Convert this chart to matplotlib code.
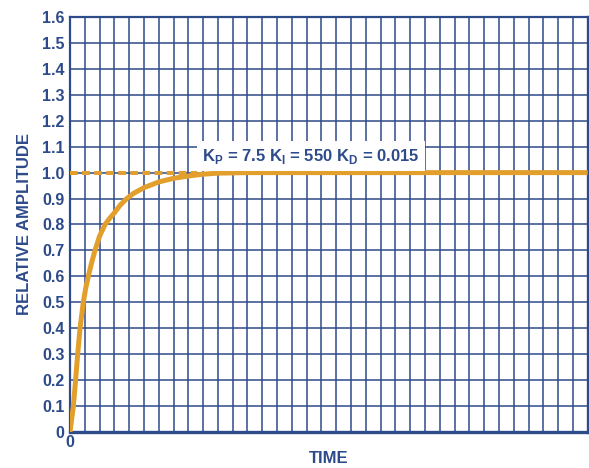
import numpy as np
import matplotlib
matplotlib.use("Agg")
import matplotlib.pyplot as plt

# valores (tiempo en divisiones de grilla)
tiempo = [0, 0.23, 0.38, 0.52, 0.68, 0.9, 1.05, 1.24, 1.45, 1.69, 2.0,
          2.37, 2.7, 3.0, 3.4, 3.84, 4.3, 5, 6, 7, 8, 9, 10, 12, 35]
amplitud = [0, 0.1, 0.2, 0.3, 0.4, 0.5, 0.55, 0.6, 0.65, 0.7, 0.755,
            0.8, 0.825, 0.845, 0.875, 0.9, 0.92, 0.942, 0.964, 0.978,
            0.987, 0.994, 0.998, 1.0, 1.0]
y_ticks = [0, 0.1, 0.2, 0.3, 0.4, 0.5, 0.6, 0.7, 0.8, 0.9, 1.0,
           1.1, 1.2, 1.3, 1.4, 1.5, 1.6]
y_labels = ["0", "0.1", "0.2", "0.3", "0.4", "0.5", "0.6", "0.7", "0.8",
            "0.9", "1.0", "1.1", "1.2", "1.3", "1.4", "1.5", "1.6"]
etiqueta = r"K$_\mathbf{P}$ = 7.5 K$_\mathbf{I}$ = 550 K$_\mathbf{D}$ = 0.015"

azul = "#2D4A8A"
naranja = "#E39F2C"

plt.rcParams["font.family"] = ["Liberation Sans", "DejaVu Sans"]
plt.rcParams["font.weight"] = "bold"
plt.rcParams["axes.labelweight"] = "bold"
plt.rcParams["mathtext.fontset"] = "custom"
plt.rcParams["mathtext.bf"] = "Liberation Sans:bold"
plt.rcParams["mathtext.rm"] = "Liberation Sans:bold"

fig = plt.figure(figsize=(5.89, 4.68), dpi=100)
ax = fig.add_axes([0.1188, 0.0769, 0.879, 0.8868])

ax.set_xlim(0, 35)
ax.set_ylim(0, 1.6)
ax.set_xticks(np.arange(0, 36, 1))
ax.set_xticklabels(["0"] + [""] * 35)
ax.set_yticks(y_ticks)
ax.set_yticklabels(y_labels)
ax.tick_params(length=0, labelsize=11.5, colors=azul, pad=4)
ax.tick_params(axis="x", pad=2)
ax.grid(True, color=azul, linewidth=1.1)
ax.set_axisbelow(True)
for lado in ["left", "bottom", "right", "top"]:
    ax.spines[lado].set_color(azul)
    ax.spines[lado].set_linewidth(1.6)
ax.spines["right"].set_linewidth(2.4)
ax.spines["bottom"].set_linewidth(2.4)

# linea de referencia punteada
ax.plot([0, 8.6], [1.0, 1.0], color=naranja, linewidth=2.9,
        linestyle=(0, (1.9, 1.1)), zorder=3)
ax.plot(tiempo, amplitud, color=naranja, linewidth=3.6, zorder=4,
        solid_capstyle="butt", solid_joinstyle="round")

ax.text(16.3, 1.064, etiqueta, fontsize=12, color=azul, ha="center",
        va="center", zorder=5,
        bbox=dict(facecolor="white", edgecolor="none", pad=4))

ax.set_xlabel("TIME", fontsize=12, color=azul, labelpad=1)
ax.set_ylabel("RELATIVE AMPLITUDE", fontsize=12, color=azul, labelpad=7)

fig.savefig("out.png", dpi=100)
